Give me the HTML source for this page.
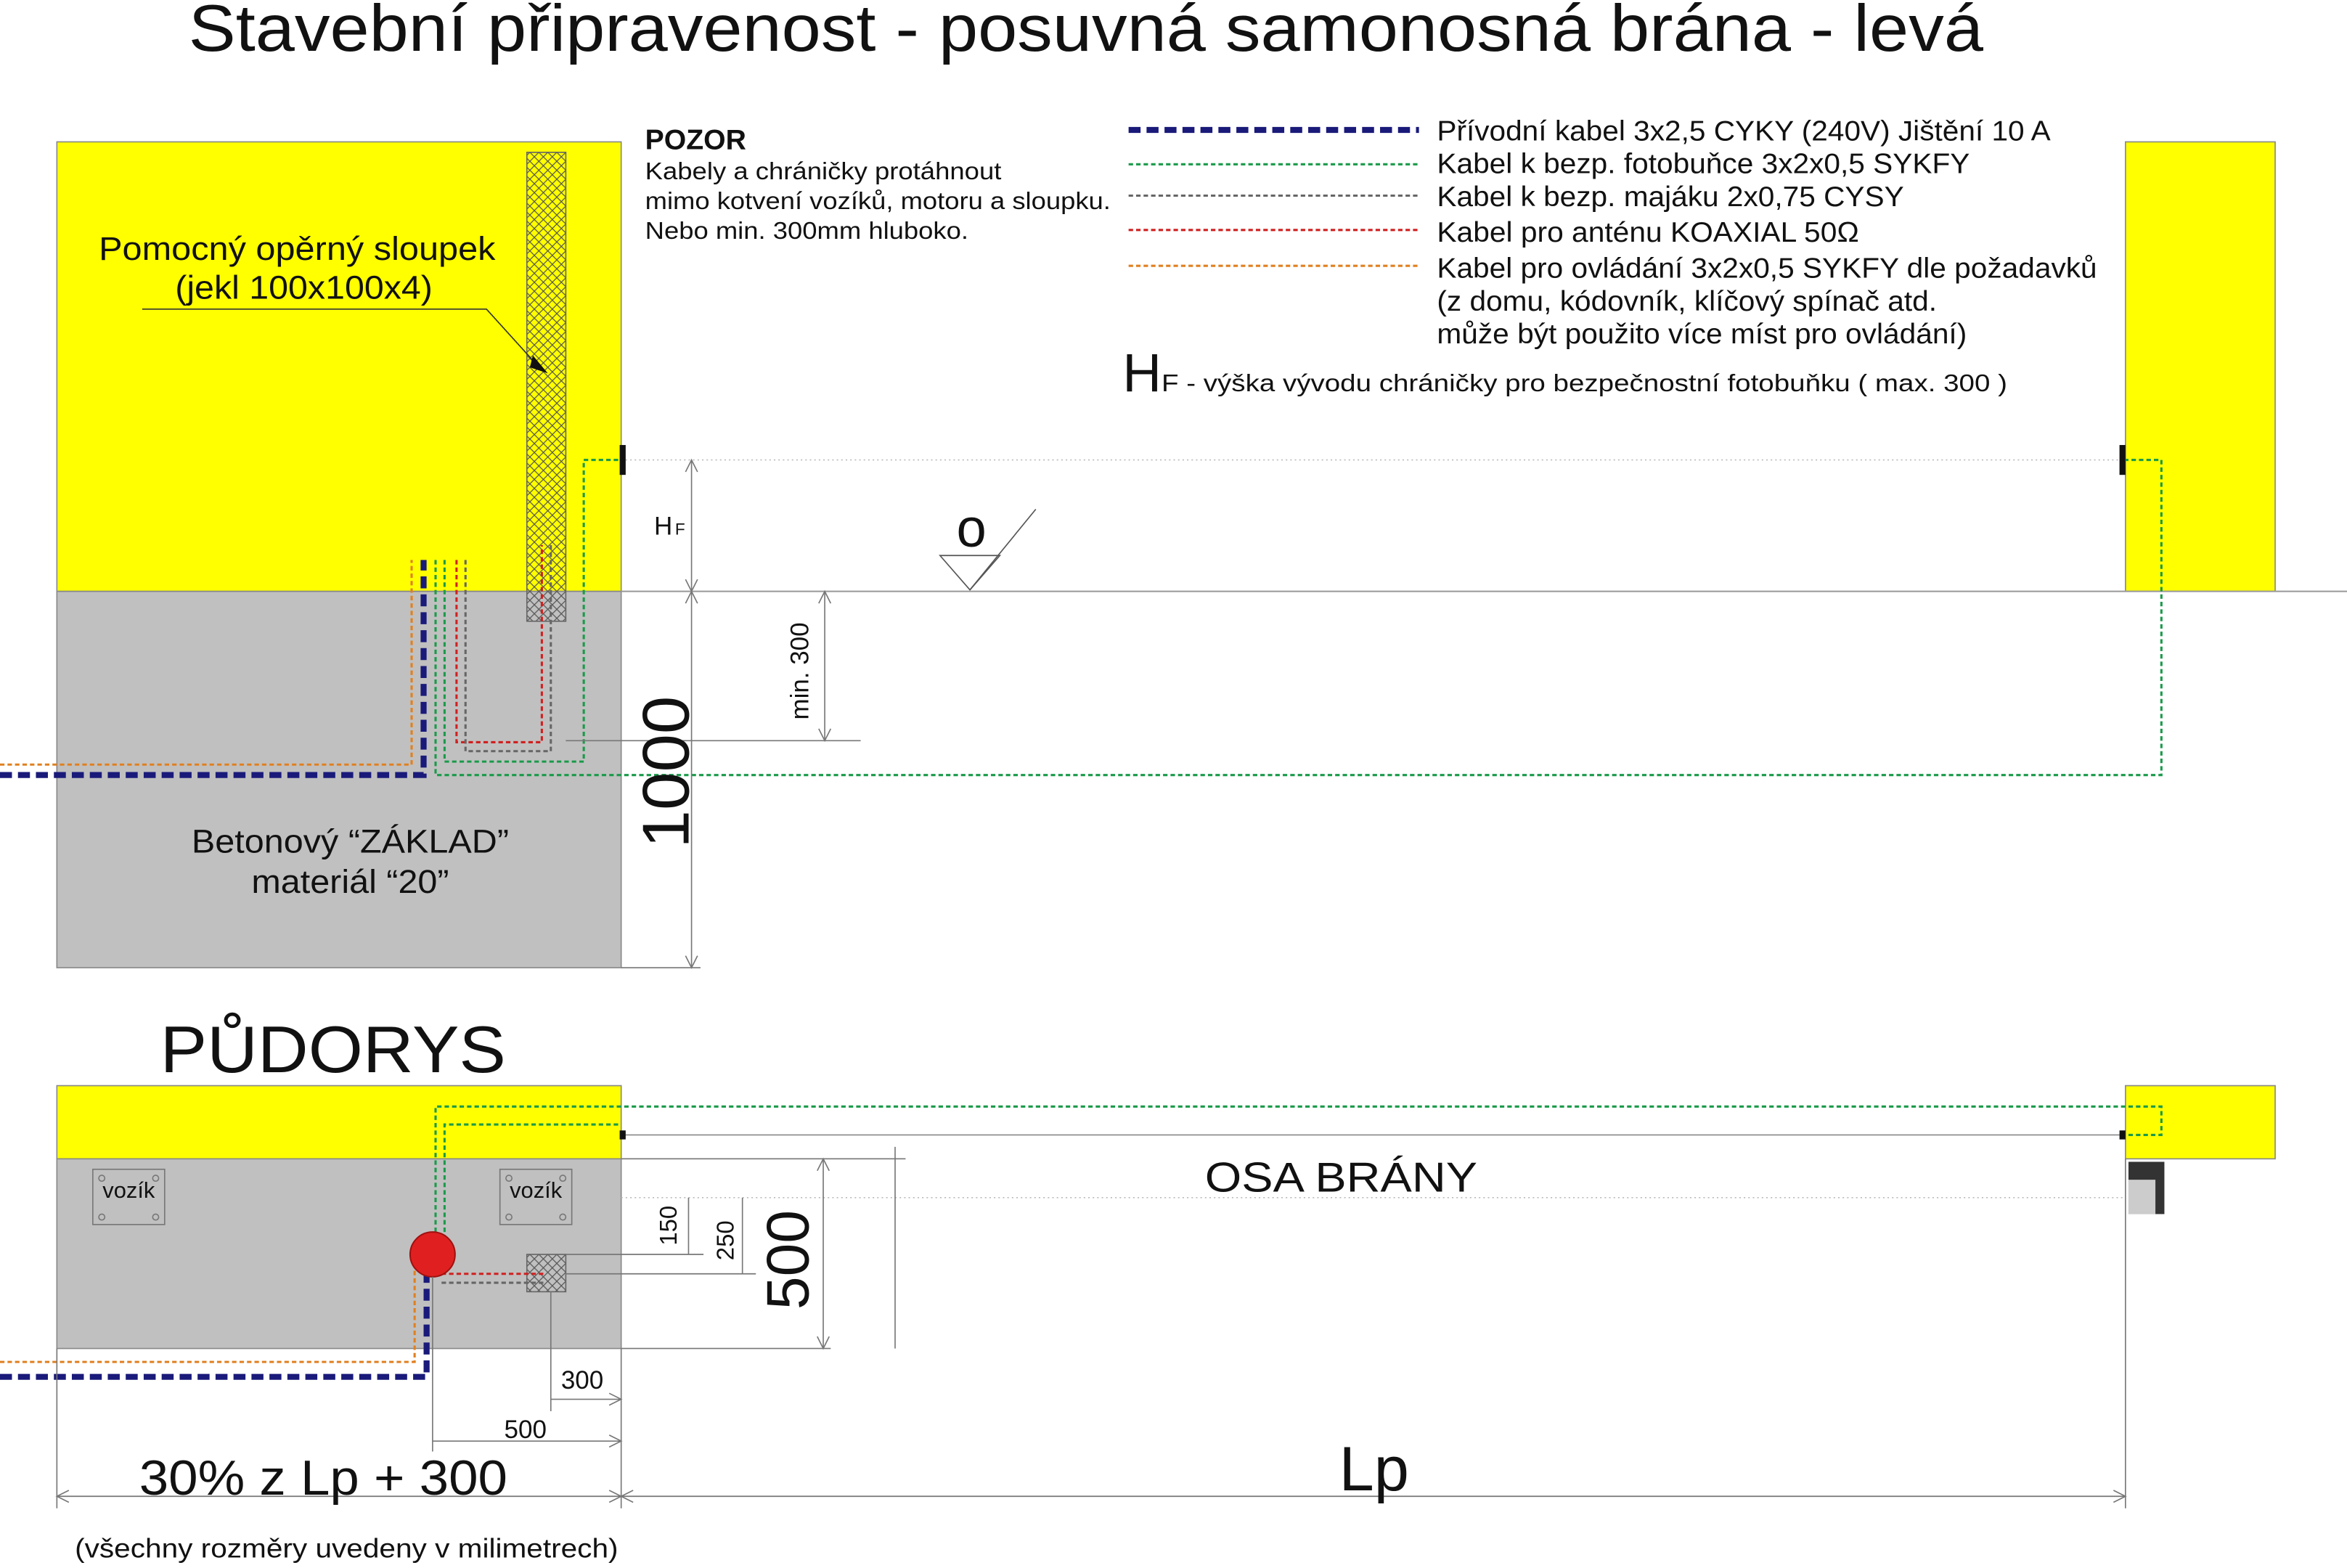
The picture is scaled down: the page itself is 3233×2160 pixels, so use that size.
<!DOCTYPE html>
<html><head><meta charset="utf-8"><style>html,body{margin:0;padding:0;background:#fff}svg{display:block}text{font-family:"Liberation Sans",sans-serif;fill:#111}</style></head><body>
<svg width="3233" height="2160" viewBox="0 0 1568 1050" preserveAspectRatio="none" xmlns="http://www.w3.org/2000/svg">
<defs>
<pattern id="h" width="6" height="6" patternUnits="userSpaceOnUse"><path d="M0 0L6 6M6 0L0 6" stroke="#555" stroke-width="0.6"/></pattern>
</defs>
<rect width="1568" height="1050" fill="#fff"/>
<text x="126" y="34" font-size="44" textLength="1199" lengthAdjust="spacingAndGlyphs">Stavební připravenost - posuvná samonosná brána - levá</text>
<!-- top section -->
<rect x="38" y="95" width="377" height="301" fill="#ffff00" stroke="#888" stroke-width="0.8"/>
<rect x="38" y="396" width="377" height="252" fill="#c0c0c0" stroke="#888" stroke-width="0.8"/>
<rect x="1420" y="95" width="100" height="301" fill="#ffff00" stroke="#888" stroke-width="0.8"/>
<line x1="415" y1="396" x2="1568" y2="396" stroke="#999" stroke-width="1"/>
<line x1="415" y1="308" x2="1420" y2="308" stroke="#bbb" stroke-width="0.8" stroke-dasharray="1,2"/>
<rect x="352" y="102" width="26" height="314" fill="url(#h)" stroke="#666" stroke-width="0.8"/>
<rect x="414" y="298" width="4" height="20" fill="#111"/>
<rect x="1416" y="298" width="4" height="20" fill="#111"/>
<text x="66" y="174" font-size="22" textLength="265" lengthAdjust="spacingAndGlyphs">Pomocný opěrný sloupek</text>
<text x="117" y="200" font-size="22" textLength="172" lengthAdjust="spacingAndGlyphs">(jekl 100x100x4)</text>
<polyline points="95,207 325,207 362,248" fill="none" stroke="#333" stroke-width="0.8"/>
<polygon points="356,238 366,250 354,246" fill="#111"/>
<text x="431" y="100" font-size="19" font-weight="bold">POZOR</text>
<text x="431" y="120" font-size="16" textLength="238" lengthAdjust="spacingAndGlyphs">Kabely a chráničky protáhnout</text>
<text x="431" y="140" font-size="16" textLength="311" lengthAdjust="spacingAndGlyphs">mimo kotvení vozíků, motoru a sloupku.</text>
<text x="431" y="160" font-size="16" textLength="216" lengthAdjust="spacingAndGlyphs">Nebo min. 300mm hluboko.</text>
<!-- legend -->
<line x1="754" y1="87" x2="948" y2="87" stroke="#1a1a7a" stroke-width="4" stroke-dasharray="8,4"/>
<line x1="754" y1="110" x2="948" y2="110" stroke="#1a9a4a" stroke-width="1.5" stroke-dasharray="3,2"/>
<line x1="754" y1="131" x2="948" y2="131" stroke="#666" stroke-width="1.5" stroke-dasharray="3,2"/>
<line x1="754" y1="154" x2="948" y2="154" stroke="#d02020" stroke-width="1.5" stroke-dasharray="3,2"/>
<line x1="754" y1="178" x2="948" y2="178" stroke="#e08020" stroke-width="1.5" stroke-dasharray="3,2"/>
<text x="960" y="94" font-size="19" textLength="410" lengthAdjust="spacingAndGlyphs">Přívodní kabel 3x2,5 CYKY (240V) Jištění 10 A</text>
<text x="960" y="116" font-size="19" textLength="356" lengthAdjust="spacingAndGlyphs">Kabel k bezp. fotobuňce 3x2x0,5 SYKFY</text>
<text x="960" y="138" font-size="19" textLength="312" lengthAdjust="spacingAndGlyphs">Kabel k bezp. majáku 2x0,75 CYSY</text>
<text x="960" y="162" font-size="19" textLength="282" lengthAdjust="spacingAndGlyphs">Kabel pro anténu KOAXIAL 50Ω</text>
<text x="960" y="186" font-size="19" textLength="441" lengthAdjust="spacingAndGlyphs">Kabel pro ovládání 3x2x0,5 SYKFY dle požadavků</text>
<text x="960" y="208" font-size="19" textLength="334" lengthAdjust="spacingAndGlyphs">(z domu, kódovník, klíčový spínač atd.</text>
<text x="960" y="230" font-size="19" textLength="354" lengthAdjust="spacingAndGlyphs">může být použito více míst pro ovládání)</text>
<text x="750" y="262" font-size="36">H</text>
<text x="776" y="262" font-size="16" textLength="565" lengthAdjust="spacingAndGlyphs">F - výška vývodu chráničky pro bezpečnostní fotobuňku ( max. 300 )</text>
<!-- cables top -->
<polyline points="0,512 275,512 275,375" fill="none" stroke="#e08020" stroke-width="1.5" stroke-dasharray="3,2"/>
<polyline points="0,519 283,519 283,375" fill="none" stroke="#1a1a7a" stroke-width="4" stroke-dasharray="8,4"/>
<polyline points="291,375 291,519 1444,519 1444,308 1420,308" fill="none" stroke="#1a9a4a" stroke-width="1.5" stroke-dasharray="3,2"/>
<polyline points="297,375 297,510 390,510 390,308 415,308" fill="none" stroke="#1a9a4a" stroke-width="1.5" stroke-dasharray="3,2"/>
<polyline points="305,375 305,497 362,497 362,365" fill="none" stroke="#d02020" stroke-width="1.5" stroke-dasharray="3,2"/>
<polyline points="311,375 311,503 368,503 368,365" fill="none" stroke="#666" stroke-width="1.5" stroke-dasharray="3,2"/>
<text x="128" y="571" font-size="22" textLength="212" lengthAdjust="spacingAndGlyphs">Betonový “ZÁKLAD”</text>
<text x="168" y="598" font-size="22" textLength="132" lengthAdjust="spacingAndGlyphs">materiál “20”</text>
<!-- dims top -->
<g stroke="#777" stroke-width="0.8" fill="none">
<line x1="462" y1="308" x2="462" y2="648"/>
<line x1="415" y1="648" x2="468" y2="648"/>
<line x1="551" y1="396" x2="551" y2="496"/>
<line x1="378" y1="496" x2="575" y2="496"/>
<path d="M458 316L462 308L466 316M458 388L462 396L466 388M458 404L462 396L466 404M458 640L462 648L466 640M547 404L551 396L555 404M547 488L551 496L555 488"/>
</g>
<text x="437" y="358" font-size="17">H</text><text x="451" y="358" font-size="11">F</text>
<text transform="translate(460,568) rotate(-90)" font-size="44" textLength="102" lengthAdjust="spacingAndGlyphs">1000</text>
<text transform="translate(540,482) rotate(-90)" font-size="17">min. 300</text>
<text x="649" y="366" font-size="36" text-anchor="middle">o</text>
<polygon points="628,372 668,372 648,395" fill="none" stroke="#555" stroke-width="0.8"/>
<line x1="648" y1="395" x2="692" y2="341" stroke="#555" stroke-width="0.8"/>
<!-- plan -->
<text x="107" y="718" font-size="44" textLength="231" lengthAdjust="spacingAndGlyphs">PŮDORYS</text>
<rect x="38" y="727" width="377" height="49" fill="#ffff00" stroke="#888" stroke-width="0.8"/>
<rect x="38" y="776" width="377" height="127" fill="#c0c0c0" stroke="#888" stroke-width="0.8"/>
<rect x="1420" y="727" width="100" height="49" fill="#ffff00" stroke="#888" stroke-width="0.8"/>
<line x1="415" y1="760" x2="1420" y2="760" stroke="#888" stroke-width="0.8"/>
<line x1="415" y1="802" x2="1420" y2="802" stroke="#bbb" stroke-width="0.8" stroke-dasharray="1,2"/>
<rect x="414" y="757" width="4" height="6" fill="#111"/>
<rect x="1416" y="757" width="4" height="6" fill="#111"/>
<rect x="1422" y="778" width="24" height="35" fill="#333"/>
<rect x="1422" y="790" width="18" height="23" fill="#ccc"/>
<text x="805" y="798" font-size="28" textLength="182" lengthAdjust="spacingAndGlyphs">OSA BRÁNY</text>
<g fill="none" stroke="#777" stroke-width="0.8">
<rect x="62" y="783" width="48" height="37"/><rect x="334" y="783" width="48" height="37"/>
<circle cx="68" cy="789" r="2"/><circle cx="104" cy="789" r="2"/><circle cx="68" cy="815" r="2"/><circle cx="104" cy="815" r="2"/>
<circle cx="340" cy="789" r="2"/><circle cx="376" cy="789" r="2"/><circle cx="340" cy="815" r="2"/><circle cx="376" cy="815" r="2"/>
</g>
<text x="86" y="802" font-size="15" text-anchor="middle">vozík</text>
<text x="358" y="802" font-size="15" text-anchor="middle">vozík</text>
<rect x="352" y="840" width="26" height="25" fill="url(#h)" stroke="#666" stroke-width="0.8"/>
<polyline points="0,912 277,912 277,840" fill="none" stroke="#e08020" stroke-width="1.5" stroke-dasharray="3,2"/>
<polyline points="0,922 285,922 285,840" fill="none" stroke="#1a1a7a" stroke-width="4" stroke-dasharray="8,4"/>
<polyline points="291,840 291,741 1444,741 1444,760 1420,760" fill="none" stroke="#1a9a4a" stroke-width="1.5" stroke-dasharray="3,2"/>
<polyline points="297,840 297,753 415,753" fill="none" stroke="#1a9a4a" stroke-width="1.5" stroke-dasharray="3,2"/>
<polyline points="295,853 365,853" fill="none" stroke="#d02020" stroke-width="1.5" stroke-dasharray="3,2"/>
<polyline points="295,859 365,859" fill="none" stroke="#666" stroke-width="1.5" stroke-dasharray="3,2"/>
<circle cx="289" cy="840" r="15" fill="#e02020" stroke="#a01010"/>
<!-- plan dims -->
<g stroke="#777" stroke-width="0.8" fill="none">
<line x1="415" y1="776" x2="605" y2="776"/>
<line x1="378" y1="840" x2="470" y2="840"/>
<line x1="378" y1="853" x2="505" y2="853"/>
<line x1="415" y1="903" x2="555" y2="903"/>
<line x1="460" y1="802" x2="460" y2="840"/>
<line x1="496" y1="802" x2="496" y2="853"/>
<line x1="550" y1="776" x2="550" y2="903"/>
<line x1="598" y1="768" x2="598" y2="903"/>
<line x1="368" y1="865" x2="368" y2="945"/>
<line x1="415" y1="903" x2="415" y2="1010"/>
<line x1="289" y1="855" x2="289" y2="972"/>
<line x1="38" y1="903" x2="38" y2="1010"/>
<line x1="1420" y1="776" x2="1420" y2="1010"/>
<line x1="368" y1="937" x2="415" y2="937"/>
<line x1="289" y1="965" x2="415" y2="965"/>
<line x1="38" y1="1002" x2="1420" y2="1002"/>
<path d="M46 998L38 1002L46 1006M407 998L415 1002L407 1006M423 998L415 1002L423 1006M1412 998L1420 1002L1412 1006M407 961L415 965L407 969M407 933L415 937L407 941M546 784L550 776L554 784M546 895L550 903L554 895"/>
</g>
<text transform="translate(452,834) rotate(-90)" font-size="16">150</text>
<text transform="translate(490,844) rotate(-90)" font-size="16">250</text>
<text transform="translate(540,877) rotate(-90)" font-size="40">500</text>
<text x="389" y="930" font-size="17" text-anchor="middle">300</text>
<text x="351" y="963" font-size="17" text-anchor="middle">500</text>
<text x="93" y="1001" font-size="33" textLength="246" lengthAdjust="spacingAndGlyphs">30% z Lp + 300</text>
<text x="918" y="998" font-size="42" text-anchor="middle">Lp</text>
<text x="50" y="1043" font-size="18" textLength="363" lengthAdjust="spacingAndGlyphs">(všechny rozměry uvedeny v milimetrech)</text>
</svg>
</body></html>
